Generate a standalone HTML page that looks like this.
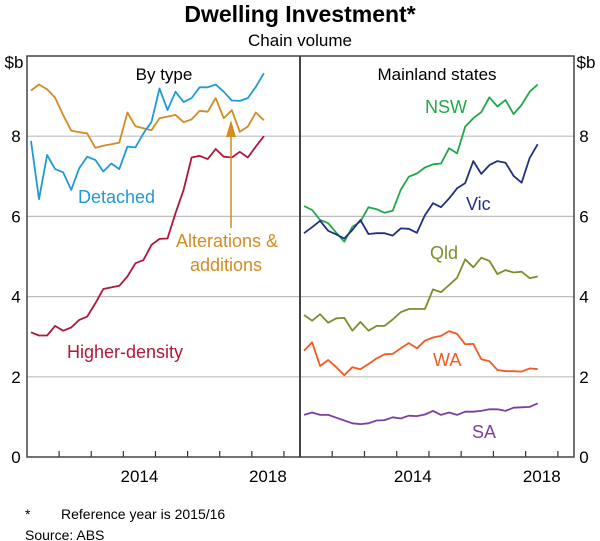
<!DOCTYPE html>
<html><head><meta charset="utf-8"><style>
html,body{margin:0;padding:0;background:#fff}
svg{display:block;font-family:"Liberation Sans",Arial,sans-serif}
</style></head><body>
<svg id="chart" width="600" height="541" viewBox="0 0 600 541">
<text x="300" y="22" text-anchor="middle" font-size="23" font-weight="bold">Dwelling Investment*</text>
<text x="300" y="46" text-anchor="middle" font-size="17">Chain volume</text>
<g id="grid"></g>
<g id="series"></g>
<g id="frame"></g>
<g id="labels" font-size="17"></g>
<text x="164" y="80" text-anchor="middle" font-size="17">By type</text>
<text x="437" y="80" text-anchor="middle" font-size="17">Mainland states</text>
<text x="78" y="203" font-size="18" fill="#1f9ad6">Detached</text>
<text x="176" y="247" font-size="18" fill="#d38b22">Alterations &amp;</text>
<text x="190" y="271" font-size="18" fill="#d38b22">additions</text>
<line x1="231" y1="228" x2="231" y2="135" stroke="#d38b22" stroke-width="1.5"/>
<polygon points="231,120 226,137 236,137" fill="#d38b22"/>
<text x="67" y="358" font-size="18" fill="#b0173a">Higher-density</text>
<text x="425" y="113" font-size="18" fill="#1fa84a">NSW</text>
<text x="466" y="210" font-size="18" fill="#23307f">Vic</text>
<text x="430" y="259" font-size="18" fill="#7f8c2a">Qld</text>
<text x="433" y="366" font-size="18" fill="#f15a22">WA</text>
<text x="472" y="438" font-size="18" fill="#7b3fa0">SA</text>
<text x="25" y="519" font-size="14">*</text>
<text x="61" y="519" font-size="14">Reference year is 2015/16</text>
<text x="25" y="540" font-size="14">Source:   ABS</text>
</svg>
<script>
const yTicks = [0, 2, 4, 6, 8];
const xYearLabels = [2014, 2018];
const xTickYears = [2012, 2013, 2014, 2015, 2016, 2017, 2018, 2019];
const startYear = 2011.125;
const detached = [7.88,6.43,7.53,7.18,7.10,6.66,7.20,7.49,7.41,7.12,7.32,7.18,7.74,7.72,8.07,8.36,9.19,8.65,9.11,8.85,8.95,9.22,9.22,9.29,9.11,8.89,8.88,8.95,9.23,9.57];
const alterations = [9.14,9.29,9.17,8.96,8.53,8.14,8.10,8.07,7.71,7.76,7.80,7.84,8.59,8.25,8.20,8.15,8.45,8.49,8.53,8.35,8.42,8.63,8.61,8.95,8.45,8.65,8.11,8.24,8.59,8.40];
const higherDensity = [3.11,3.03,3.03,3.27,3.15,3.23,3.42,3.50,3.83,4.19,4.23,4.27,4.50,4.83,4.91,5.29,5.44,5.45,6.08,6.66,7.47,7.51,7.43,7.68,7.49,7.47,7.61,7.47,7.74,8.00];
const nsw = [6.26,6.16,5.91,5.83,5.59,5.37,5.74,5.87,6.23,6.18,6.09,6.14,6.66,6.99,7.07,7.22,7.30,7.32,7.70,7.57,8.24,8.45,8.60,8.97,8.74,8.90,8.55,8.78,9.11,9.29];
const vic = [5.58,5.73,5.89,5.64,5.55,5.45,5.66,5.91,5.56,5.58,5.58,5.52,5.70,5.69,5.59,6.03,6.33,6.23,6.45,6.70,6.83,7.38,7.06,7.28,7.38,7.34,7.01,6.84,7.46,7.80];
const qld = [3.54,3.40,3.56,3.35,3.46,3.47,3.15,3.37,3.15,3.27,3.27,3.43,3.61,3.69,3.69,3.69,4.18,4.11,4.29,4.47,4.93,4.73,4.97,4.89,4.56,4.66,4.60,4.62,4.46,4.50];
const wa = [2.65,2.86,2.27,2.42,2.24,2.04,2.24,2.19,2.32,2.46,2.56,2.57,2.71,2.84,2.71,2.90,2.98,3.02,3.14,3.07,2.81,2.82,2.44,2.39,2.17,2.14,2.14,2.13,2.21,2.19];
const sa = [1.05,1.11,1.05,1.05,0.98,0.91,0.84,0.82,0.84,0.91,0.92,0.99,0.96,1.03,1.02,1.06,1.15,1.05,1.11,1.05,1.13,1.13,1.15,1.19,1.19,1.15,1.23,1.24,1.25,1.34];

const NS='http://www.w3.org/2000/svg';
const L=27, M=300, R=574, T=56, B=457;
const X0=2011.0, X1=2019.5;
function yS(v){return B-(v/10)*(B-T);}
function xS(panel,yr){const a=panel===0?L:M,b=panel===0?M:R;return a+(yr-X0)/(X1-X0)*(b-a);}
function mk(tag,attrs,parent){const e=document.createElementNS(NS,tag);for(const k in attrs)e.setAttribute(k,attrs[k]);parent.appendChild(e);return e;}
const grid=document.getElementById('grid'),ser=document.getElementById('series'),frame=document.getElementById('frame'),labs=document.getElementById('labels');
yTicks.forEach(v=>{
  if(v>0){const g=mk('line',{x1:L,x2:R,y1:yS(v),y2:yS(v),stroke:'#bdbdbd','stroke-width':1.2},grid);
  
  }
  const t1=mk('text',{x:16,y:yS(v)+6,'text-anchor':'middle'},labs);t1.textContent=v;
  
  
  const t2=mk('text',{x:584,y:yS(v)+6,'text-anchor':'middle'},labs);t2.textContent=v;
  
  
});
const u1=mk('text',{x:14,y:yS(10)+12,'text-anchor':'middle'},labs);u1.textContent='$b';


const u2=mk('text',{x:586,y:yS(10)+12,'text-anchor':'middle'},labs);u2.textContent='$b';


[0,1].forEach(p=>{
  xTickYears.forEach(y=>{const x=xS(p,y);if(x<(p?R:M)-1){const t=mk('line',{x1:x,x2:x,y1:B,y2:B-6,stroke:'#333','stroke-width':1.2},frame);
  
  }});
  xYearLabels.forEach(y=>{const t=mk('text',{x:xS(p,y+0.5),y:B+25,'text-anchor':'middle'},labs);t.textContent=y;
  
  });
});
const fr=mk('rect',{x:L,y:T,width:R-L,height:B-T,fill:'none',stroke:'#444','stroke-width':1.5},frame);


const dv=mk('line',{x1:M,x2:M,y1:T,y2:B,stroke:'#444','stroke-width':2},frame);


function line(panel,data,color,name){
  const pts=data.map((v,i)=>xS(panel,startYear+0.25*i).toFixed(1)+','+yS(v).toFixed(1)).join(' ');
  const pl=mk('polyline',{points:pts,fill:'none',stroke:color,'stroke-width':1.8,'stroke-linejoin':'round'},ser);
  
  
}
line(0,alterations,'#d38b22','series-alterations');
line(0,detached,'#1f9ad6','series-detached');
line(0,higherDensity,'#b0173a','series-higher-density');
line(1,nsw,'#1fa84a','series-nsw');
line(1,vic,'#23307f','series-vic');
line(1,qld,'#7f8c2a','series-qld');
line(1,wa,'#f15a22','series-wa');
line(1,sa,'#7b3fa0','series-sa');
</script>
</body></html>
